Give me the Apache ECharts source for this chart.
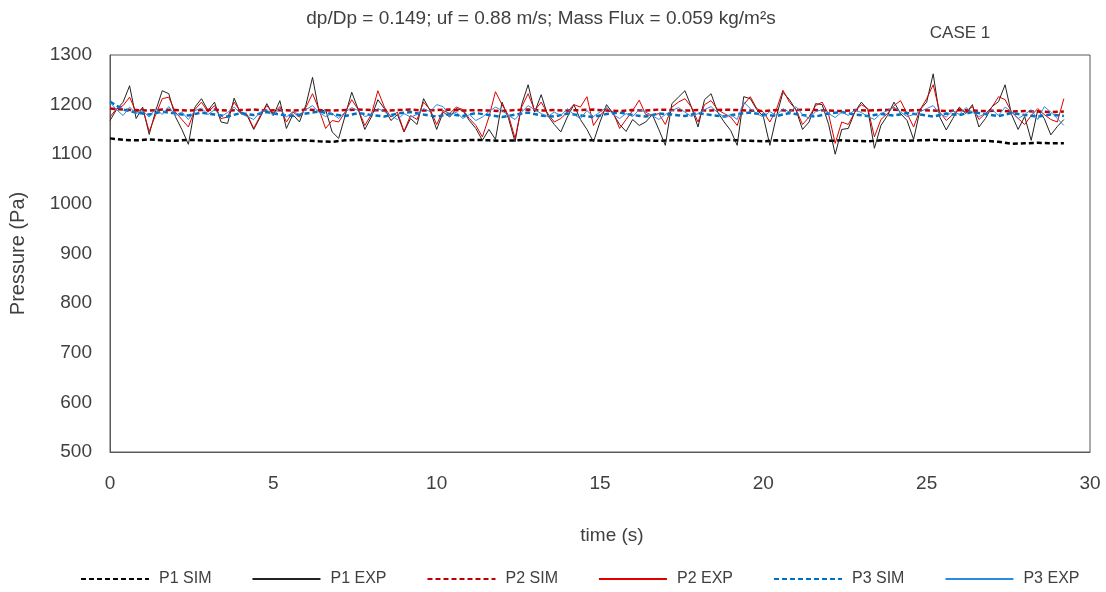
<!DOCTYPE html>
<html>
<head>
<meta charset="utf-8">
<script src="https://cdn.jsdelivr.net/npm/echarts@6/dist/echarts.min.js"></script>
<style>
  html, body { margin: 0; padding: 0; background: #ffffff; }
  #chart { width: 1106px; height: 592px; }
</style>
</head>
<body>
<div id="chart"></div>
<script>
// Sampling intervals (s) of the measured and simulated records
const expStep = 0.2;
const simStep = 0.4;

// Measured pressure (Pa), one value every expStep seconds from t = 0
const p1Exp = [
  1168, 1190, 1205, 1238, 1172, 1195, 1140, 1188, 1228, 1222, 1176, 1150, 1120, 1195, 1212, 1188, 1205, 1165, 1162, 1213, 1182, 1178, 1150, 1175, 1202,
  1178, 1208, 1152, 1180, 1165, 1200, 1255, 1185, 1190, 1145, 1132, 1178, 1225, 1190, 1150, 1175, 1210, 1192, 1168, 1180, 1145, 1172, 1160, 1212, 1188,
  1150, 1185, 1175, 1192, 1188, 1168, 1152, 1128, 1150, 1130, 1205, 1172, 1125, 1200, 1240, 1185, 1220, 1178, 1160, 1145, 1175, 1200, 1170, 1150, 1125,
  1165, 1200, 1182, 1160, 1146, 1170, 1158, 1165, 1180, 1150, 1118, 1202, 1215, 1228, 1195, 1155, 1210, 1222, 1185, 1165, 1148, 1118, 1216, 1212, 1190,
  1176, 1118, 1176, 1225, 1210, 1189, 1150, 1165, 1202, 1200, 1160, 1100, 1150, 1152, 1185, 1205, 1190, 1112, 1158, 1178, 1205, 1182, 1168, 1130, 1190,
  1205, 1262, 1175, 1149, 1172, 1195, 1182, 1200, 1155, 1172, 1196, 1206, 1240, 1180, 1150, 1176, 1128, 1189, 1172, 1139, 1156, 1170
];
const p2Exp = [
  1175, 1192, 1198, 1215, 1185, 1192, 1146, 1180, 1212, 1215, 1185, 1170, 1155, 1190, 1205, 1185, 1198, 1172, 1175, 1205, 1185, 1180, 1152, 1178, 1198,
  1182, 1196, 1165, 1185, 1175, 1195, 1222, 1190, 1152, 1168, 1165, 1185, 1210, 1190, 1158, 1180, 1228, 1195, 1175, 1185, 1146, 1178, 1170, 1205, 1190,
  1160, 1188, 1182, 1195, 1190, 1172, 1158, 1135, 1175, 1226, 1200, 1178, 1132, 1195, 1222, 1188, 1205, 1182, 1165, 1172, 1185, 1200, 1195, 1216, 1158,
  1178, 1192, 1185, 1152, 1170, 1188, 1209, 1180, 1178, 1182, 1160, 1195, 1205, 1212, 1195, 1165, 1200, 1208, 1190, 1182, 1175, 1158, 1200, 1216, 1192,
  1185, 1165, 1190, 1229, 1205, 1190, 1160, 1175, 1198, 1205, 1180, 1122, 1165, 1160, 1185, 1200, 1192, 1135, 1170, 1182, 1198, 1208, 1182, 1155, 1190,
  1212, 1240, 1185, 1168, 1180, 1192, 1185, 1196, 1170, 1182, 1195, 1216, 1210, 1185, 1172, 1160, 1178, 1192, 1180, 1170, 1165, 1212
];
const p3Exp = [
  1205, 1190, 1178, 1195, 1182, 1188, 1175, 1192, 1180, 1196, 1178, 1185, 1170, 1188, 1193, 1180, 1190, 1176, 1184, 1195, 1182, 1176, 1170, 1185, 1190,
  1178, 1192, 1175, 1186, 1180, 1190, 1198, 1184, 1176, 1182, 1172, 1185, 1194, 1188, 1176, 1180, 1192, 1186, 1178, 1170, 1182, 1175, 1180, 1192, 1186,
  1200, 1196, 1178, 1185, 1172, 1180, 1168, 1175, 1186, 1195, 1188, 1178, 1170, 1185, 1198, 1190, 1182, 1176, 1185, 1178, 1192, 1180, 1172, 1188, 1176,
  1185, 1195, 1180, 1172, 1182, 1176, 1190, 1185, 1178, 1170, 1180, 1188, 1194, 1185, 1176, 1182, 1190, 1196, 1184, 1175, 1180, 1170, 1205, 1192, 1182,
  1175, 1186, 1178, 1192, 1185, 1196, 1180, 1172, 1186, 1190, 1182, 1174, 1185, 1178, 1190, 1184, 1176, 1170, 1182, 1188, 1195, 1185, 1176, 1180, 1186,
  1192, 1198, 1182, 1175, 1188, 1180, 1194, 1185, 1176, 1182, 1190, 1178, 1195, 1186, 1172, 1180, 1190, 1170, 1196, 1185, 1172, 1158
];

// Simulated pressure (Pa), one value every simStep seconds from t = 0
const p1Sim = [
  1132, 1129, 1128, 1130, 1128, 1127, 1129, 1128, 1127, 1128, 1129, 1128, 1127, 1128, 1129, 1128, 1126, 1125, 1128, 1129,
  1128, 1127, 1126, 1128, 1129, 1128, 1127, 1128, 1129, 1128, 1127, 1128, 1129, 1128, 1127, 1128, 1129, 1128, 1127, 1128,
  1129, 1128, 1127, 1128, 1128, 1127, 1128, 1129, 1128, 1127, 1126, 1128, 1127, 1128, 1129, 1127, 1128, 1127, 1126, 1128,
  1128, 1127, 1128, 1129, 1128, 1127, 1128, 1127, 1125, 1121, 1122, 1123, 1122, 1122
];
const p2Sim = [
  1192, 1190, 1189, 1188, 1190, 1189, 1188, 1189, 1190, 1188, 1189, 1190, 1188, 1189, 1188, 1190, 1189, 1188, 1189, 1190,
  1189, 1188, 1189, 1190, 1188, 1189, 1190, 1188, 1189, 1188, 1187, 1189, 1190, 1188, 1189, 1188, 1189, 1190, 1188, 1187,
  1189, 1188, 1190, 1189, 1188, 1189, 1188, 1190, 1189, 1188, 1187, 1189, 1188, 1190, 1189, 1188, 1187, 1189, 1188, 1189,
  1190, 1188, 1189, 1188, 1187, 1189, 1188, 1187, 1188, 1186, 1187, 1186, 1185, 1186
];
const p3Sim = [
  1206, 1190, 1184, 1180, 1186, 1182, 1178, 1184, 1180, 1176, 1183, 1179, 1185, 1180, 1177, 1182, 1186, 1181, 1177, 1183,
  1179, 1176, 1182, 1185, 1180, 1176, 1181, 1177, 1183, 1179, 1175, 1180, 1184, 1178, 1176, 1182, 1178, 1175, 1181, 1184,
  1179, 1176, 1182, 1180, 1177, 1183, 1179, 1176, 1181, 1184, 1180, 1177, 1183, 1179, 1176, 1182, 1185, 1180, 1177, 1181,
  1178, 1183, 1180, 1176, 1182, 1179, 1185, 1181, 1177, 1183, 1179, 1176, 1180, 1177
];

const seriesNames = ['P1 SIM', 'P1 EXP', 'P2 SIM', 'P2 EXP', 'P3 SIM', 'P3 EXP'];
const xTicks = { min: 0, max: 30, interval: 5 };
const yTicks = { min: 500, max: 1300, interval: 100 };

function toPairs(values, step) {
  return values.map((v, i) => [Math.round(i * step * 100) / 100, v]);
}

const FONT = "'Liberation Sans', Arial, sans-serif";
const TXT = '#404040';

function simSeries(name, values, color) {
  return {
    name, type: 'line', data: toPairs(values, simStep),
    symbol: 'none', showSymbol: false,
    lineStyle: { color, width: 2.5, type: [5, 3] },
    itemStyle: { color }
  };
}
function expSeries(name, values, color) {
  return {
    name, type: 'line', data: toPairs(values, expStep),
    symbol: 'none', showSymbol: false,
    lineStyle: { color, width: 1 },
    itemStyle: { color }
  };
}

const chart = echarts.init(document.getElementById('chart'), null, { renderer: 'canvas' });
chart.setOption({
  animation: false,
  backgroundColor: '#ffffff',
  title: [
    {
      text: 'dp/Dp = 0.149; uf = 0.88 m/s; Mass Flux = 0.059 kg/m²s',
      left: 536, top: 4, textAlign: 'center',
      textStyle: { fontFamily: FONT, fontSize: 19, fontWeight: 'normal', color: TXT }
    },
    {
      text: 'CASE 1',
      left: 955, top: 20, textAlign: 'center',
      textStyle: { fontFamily: FONT, fontSize: 17, fontWeight: 'normal', color: TXT }
    }
  ],
  grid: {
    left: 107, right: 16, top: 55, bottom: 140,
    show: true, borderColor: '#595959', borderWidth: 1, backgroundColor: 'transparent'
  },
  legend: {
    data: seriesNames,
    top: 571, left: 80, width: 1020, padding: 0,
    itemWidth: 68, itemHeight: 12, itemGap: 40,
    itemStyle: { opacity: 0 },
    textStyle: { fontFamily: FONT, fontSize: 16, color: TXT, padding: [0, 0, 0, 5] }
  },
  xAxis: {
    type: 'value', min: xTicks.min, max: xTicks.max, interval: xTicks.interval,
    name: 'time (s)', nameLocation: 'middle', nameGap: 74,
    nameTextStyle: { fontFamily: FONT, fontSize: 19, color: TXT, padding: [0, 0, 0, 24] },
    axisLine: { show: true, lineStyle: { color: '#595959', width: 1 } },
    axisTick: { show: false },
    splitLine: { show: false },
    axisLabel: { fontFamily: FONT, fontSize: 19, color: TXT, margin: 22, formatter: v => String(v) }
  },
  yAxis: {
    type: 'value', min: yTicks.min, max: yTicks.max, interval: yTicks.interval,
    name: 'Pressure (Pa)', nameLocation: 'middle', nameGap: 82, nameRotate: 90,
    nameTextStyle: { fontFamily: FONT, fontSize: 20, color: TXT },
    axisLine: { show: true, lineStyle: { color: '#595959', width: 1 } },
    axisTick: { show: false },
    splitLine: { show: false },
    axisLabel: { fontFamily: FONT, fontSize: 19, color: TXT, margin: 18, formatter: v => String(v) }
  },
  series: [
    simSeries('P1 SIM', p1Sim, '#000000'),
    expSeries('P1 EXP', p1Exp, '#222222'),
    simSeries('P2 SIM', p2Sim, '#c00000'),
    expSeries('P2 EXP', p2Exp, '#e00000'),
    simSeries('P3 SIM', p3Sim, '#0070c0'),
    expSeries('P3 EXP', p3Exp, '#2e8ae0')
  ]
});
</script>
</body>
</html>
